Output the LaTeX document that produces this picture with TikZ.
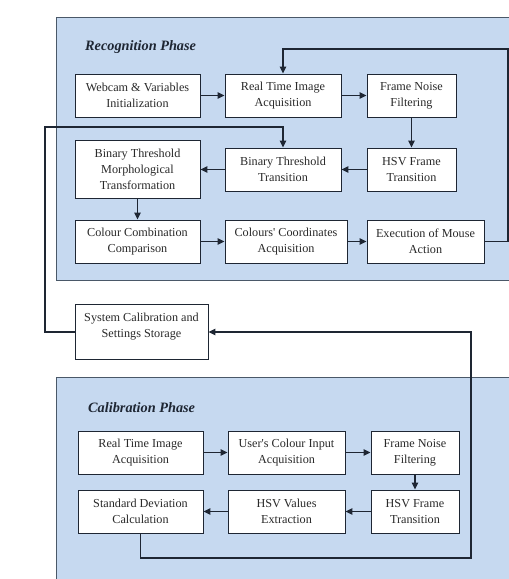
\documentclass[tikz,border=0pt]{standalone}
\usepackage{fontspec}
\setmainfont{Liberation Serif}
\usetikzlibrary{arrows.meta}
\definecolor{panelfill}{HTML}{C6D9F0}
\definecolor{panelline}{HTML}{4A5868}
\definecolor{linecol}{HTML}{1E2633}
\definecolor{textcol}{HTML}{2A2A2A}
\tikzset{
  box/.style={draw=linecol, line width=0.9pt, fill=white, align=center, inner sep=2pt,
    text=textcol, font=\fontsize{12.2}{16}\selectfont, minimum height=43pt},
  panel/.style={draw=panelline, line width=1pt, fill=panelfill},
  title/.style={anchor=west, font=\fontsize{14.3}{16}\selectfont\bfseries\itshape, text=linecol, inner sep=0pt},
  conn/.style={draw=linecol, line width=1.1pt, -{Triangle[length=7pt,width=6.5pt]}},
  plain/.style={draw=linecol, line width=1.1pt}
}
\begin{document}
\begin{tikzpicture}[x=1pt,y=-1pt]
\useasboundingbox (0,0) rectangle (509,579);
\fill[white] (0,0) rectangle (509,579);
% panels
\path[panel] (56,17) rectangle (520,280);
\path[panel] (56,377) rectangle (520,590);
\node[title] (t1) at (85,47) {Recognition Phase};
\node[title] (t2) at (88,408) {Calibration Phase};
% recognition boxes
\node[box, minimum width=125pt] (web) at (137.5,95.5) {Webcam \& Variables\\Initialization};
\node[box, minimum width=116pt] (rt) at (283,95.5) {Real Time Image\\Acquisition};
\node[box, minimum width=89pt] (fn) at (411.5,95.5) {Frame Noise\\Filtering};
\node[box, minimum width=125pt, minimum height=58pt] (morph) at (137.5,169) {Binary Threshold\\Morphological\\Transformation};
\node[box, minimum width=116pt] (btt) at (283,169.5) {Binary Threshold\\Transition};
\node[box, minimum width=89pt] (hsv) at (411.5,169.5) {HSV Frame\\Transition};
\node[box, minimum width=125pt] (cc) at (137.5,241.5) {Colour Combination\\Comparison};
\node[box, minimum width=122pt] (coord) at (286,241.5) {Colours\textquotesingle{} Coordinates\\Acquisition};
\node[box, minimum width=117pt] (exe) at (425.5,241.5) {Execution of Mouse\\Action};
% storage
\node[box, minimum width=133pt, minimum height=55pt] (sys) at (141.5,331.5) {System Calibration and\\Settings Storage\\[-4pt]~};
% calibration boxes
\node[box, minimum width=125pt] (crt) at (140.5,452.5) {Real Time Image\\Acquisition};
\node[box, minimum width=117pt] (cuc) at (286.5,452.5) {User\textquotesingle{}s Colour Input\\Acquisition};
\node[box, minimum width=88pt] (cfn) at (415,452.5) {Frame Noise\\Filtering};
\node[box, minimum width=125pt] (csd) at (140.5,511.5) {Standard Deviation\\Calculation};
\node[box, minimum width=117pt] (chv) at (286.5,511.5) {HSV Values\\Extraction};
\node[box, minimum width=88pt] (chf) at (415,511.5) {HSV Frame\\Transition};
% coordinates for loops
\coordinate (l1a) at (508,241.5);
\coordinate (l1b) at (508,49);
\coordinate (l1c) at (283,49);
\coordinate (l2a) at (45,332);
\coordinate (l2b) at (45,127);
\coordinate (l2c) at (283,127);
\coordinate (l3a) at (140.5,558);
\coordinate (l3b) at (471,558);
\coordinate (l3c) at (471,332);
% recognition arrows
\draw[conn] (web) -- (rt);
\draw[conn] (rt) -- (fn);
\draw[conn] (fn) -- (hsv);
\draw[conn] (hsv) -- (btt);
\draw[conn] (btt.west) -- (morph.east |- btt.west);
\draw[conn] (morph) -- (cc);
\draw[conn] (cc) -- (coord);
\draw[conn] (coord) -- (exe);
\draw[conn] (exe.east) -- (l1a) -- (l1b) -- (l1c) -- (rt.north);
\draw[conn] (sys.west |- l2a) -- (l2a) -- (l2b) -- (l2c) -- (btt.north);
% calibration arrows
\draw[conn] (crt) -- (cuc);
\draw[conn] (cuc) -- (cfn);
\draw[conn] (cfn) -- (chf);
\draw[conn] (chf) -- (chv);
\draw[conn] (chv) -- (csd);
\draw[conn] (csd.south) -- (l3a) -- (l3b) -- (l3c) -- (sys.east |- l3c);
\end{tikzpicture}
\end{document}
